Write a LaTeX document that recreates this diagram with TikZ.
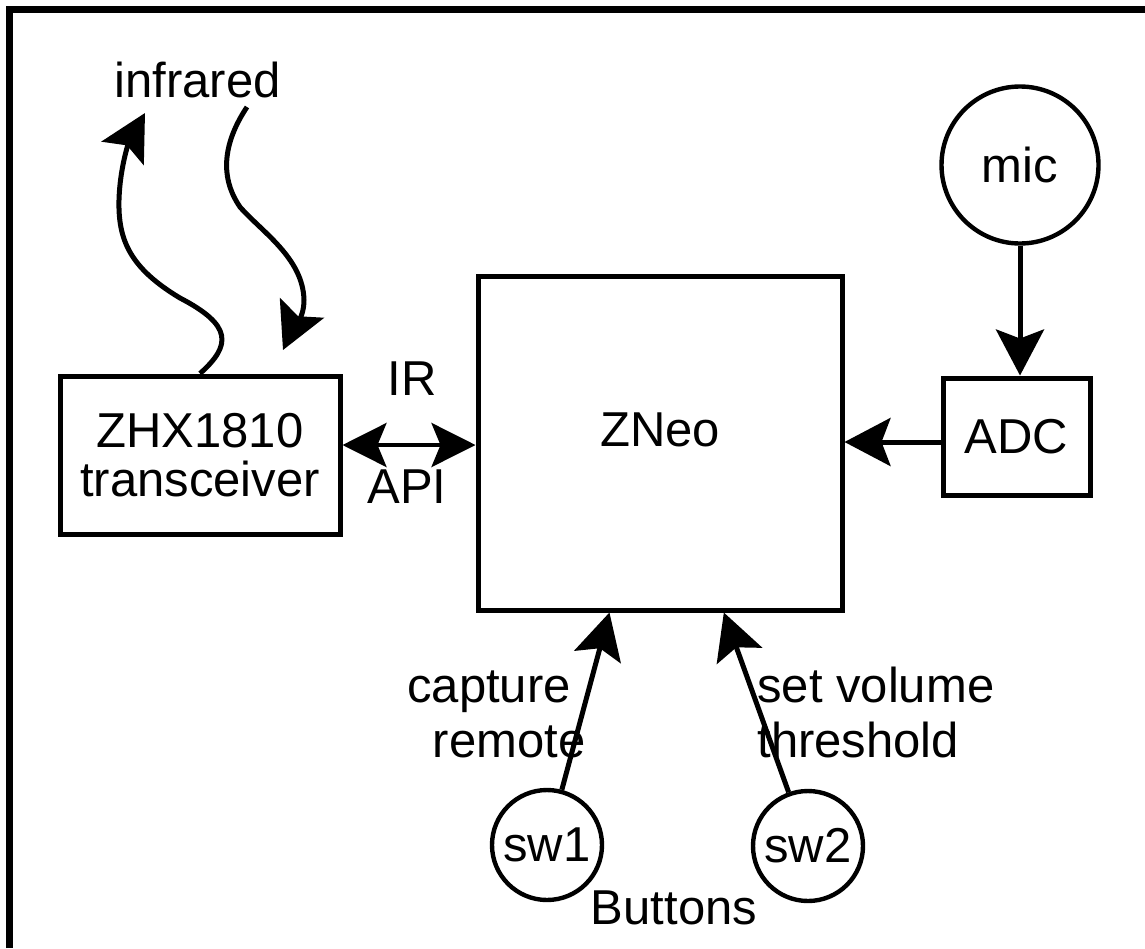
\documentclass[tikz,border=0pt]{standalone}
\usepackage{fontspec}
\setmainfont{Liberation Sans}
\usetikzlibrary{arrows.meta,calc}
\begin{document}
\begin{tikzpicture}[x=0.5pt,y=-0.5pt,
  every node/.style={font=\fontsize{24.5pt}{27.5pt}\selectfont, inner sep=0pt},
  box/.style={draw, line width=2.5pt, rectangle, fill=white},
  circ/.style={draw, line width=2.2pt, circle},
  arr/.style={line width=2.5pt, -{Stealth[length=23pt,width=24pt,inset=4.5pt]}},
  darr/.style={line width=2pt, {Stealth[length=22pt,width=22pt,inset=4.5pt]}-{Stealth[length=22pt,width=22pt,inset=4.5pt]}},
  lbl/.style={anchor=base}
]
\useasboundingbox (0,0) rectangle (1145,948);
\draw[line width=3.5pt] (9.5,948) -- (9.5,9.5) -- (1145,9.5);

% blocks
\node[box, minimum width=140pt, minimum height=79pt, align=center,
      font=\fontsize{24.5pt}{24.5pt}\selectfont] (zhx) at (200,455) {ZHX1810\\transceiver};
\node[box, minimum width=182pt, minimum height=167pt,
      label={[yshift=6.75pt]center:ZNeo}] (zneo) at (660,443) {};
\node[box, minimum width=73.5pt, minimum height=58.5pt] (adc) at (1016.5,436.5) {ADC};
\node[circ, minimum size=78.5pt] (mic) at (1020,165) {mic};
\node[circ, minimum size=55pt] (sw1) at (547,845) {sw1};
\node[circ, minimum size=55pt] (sw2) at (808,846) {sw2};

% labels
\node[lbl] (infrared) at (197.5,97) {infrared};
\node[lbl] (ir) at (412,395) {IR};
\node[lbl] (api) at (407,503) {API};
\node[lbl] (cap1) at (489,702) {capture};
\node[lbl] (cap2) at (509,757) {remote};
\node[anchor=base west] (vol1) at (757,702) {set volume};
\node[anchor=base west] (vol2) at (757,757) {threshold};
\node[lbl] (buttons) at (674,924) {Buttons};

% connectors
\draw[arr] (mic.south) -- (mic.south |- adc.north);
\draw[arr] ([yshift=-2.75pt]adc.west) -- ([yshift=-2.75pt]adc.west -| zneo.east);
\draw[darr] ([yshift=5pt]zhx.east) -- ([yshift=5pt]zhx.east -| zneo.west);
\coordinate (t1) at ($(zneo.south west)!0.363!(zneo.south east)$);
\coordinate (t2) at ($(zneo.south west)!0.673!(zneo.south east)$);
\draw[arr] (sw1) -- (t1);
\draw[arr] (sw2) -- (t2);

% infrared waves
\coordinate (irout) at (145,113);
\coordinate (irin) at (247,107);
\coordinate (irinend) at (283,350);
\draw[arr] (zhx.north) .. controls (232,345) and (232,325) .. (180,298)
  .. controls (130,268) and (118,240) .. (119,200)
  .. controls (120,165) and (130,140) .. (irout);
\draw[arr] (irin) .. controls (225,140) and (218,175) .. (240,207)
  .. controls (262,232) and (303,258) .. (304,300)
  .. controls (304,320) and (292,330) .. (irinend);
\end{tikzpicture}
\end{document}
